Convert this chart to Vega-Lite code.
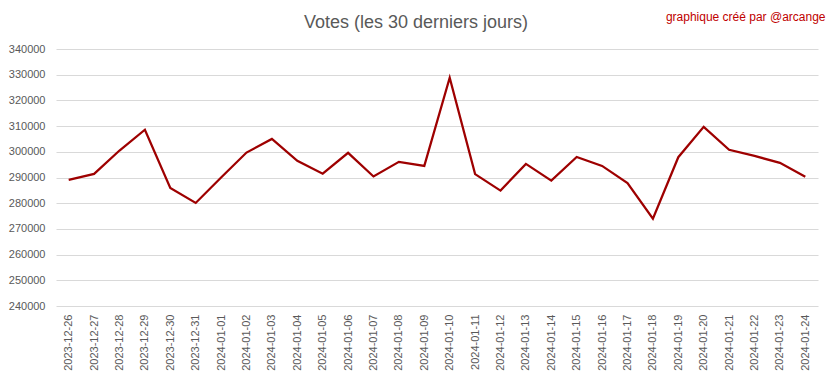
{
  "$schema": "https://vega.github.io/schema/vega-lite/v6.json",
  "autosize": {"type": "none"},
  "width": 762,
  "height": 257,
  "padding": {"left": 56, "top": 49, "right": 14, "bottom": 73},
  "background": "white",
  "title": {
    "text": "Votes (les 30 derniers jours)",
    "font": "Liberation Sans",
    "fontSize": 18,
    "fontWeight": "normal",
    "color": "#595959",
    "anchor": "middle",
    "frame": "group",
    "dx": -21,
    "dy": 26
  },
  "config": {
    "view": {"stroke": null},
    "axis": {"labelFont": "Liberation Sans", "titleFont": "Liberation Sans"}
  },
  "data": {
    "values": [
      {"date": "2023-12-26", "votes": 289100},
      {"date": "2023-12-27", "votes": 291400},
      {"date": "2023-12-28", "votes": 300500},
      {"date": "2023-12-29", "votes": 308600},
      {"date": "2023-12-30", "votes": 285900},
      {"date": "2023-12-31", "votes": 280100},
      {"date": "2024-01-01", "votes": 290000},
      {"date": "2024-01-02", "votes": 299700},
      {"date": "2024-01-03", "votes": 305000},
      {"date": "2024-01-04", "votes": 296500},
      {"date": "2024-01-05", "votes": 291500},
      {"date": "2024-01-06", "votes": 299600},
      {"date": "2024-01-07", "votes": 290400},
      {"date": "2024-01-08", "votes": 296100},
      {"date": "2024-01-09", "votes": 294500},
      {"date": "2024-01-10", "votes": 328800},
      {"date": "2024-01-11", "votes": 291300},
      {"date": "2024-01-12", "votes": 284900},
      {"date": "2024-01-13", "votes": 295300},
      {"date": "2024-01-14", "votes": 288800},
      {"date": "2024-01-15", "votes": 298000},
      {"date": "2024-01-16", "votes": 294500},
      {"date": "2024-01-17", "votes": 287800},
      {"date": "2024-01-18", "votes": 274000},
      {"date": "2024-01-19", "votes": 297900},
      {"date": "2024-01-20", "votes": 309700},
      {"date": "2024-01-21", "votes": 300800},
      {"date": "2024-01-22", "votes": 298400},
      {"date": "2024-01-23", "votes": 295700},
      {"date": "2024-01-24", "votes": 290300}
    ]
  },
  "resolve": {"axis": {"x": "independent"}},
  "layer": [
    {
      "mark": {"type": "line", "color": "#9e0000", "strokeWidth": 2.25, "strokeJoin": "miter"},
      "encoding": {
        "x": {
          "field": "date",
          "type": "ordinal",
          "scale": {"type": "point", "padding": 0.5},
          "axis": {
            "title": null,
            "labelAngle": -90,
            "labelAlign": "right",
            "labelBaseline": "middle",
            "labelFontSize": 11,
            "labelColor": "#595959",
            "labelPadding": 8,
            "ticks": false,
            "domain": false,
            "grid": false
          }
        },
        "y": {
          "field": "votes",
          "type": "quantitative",
          "scale": {"domain": [240000, 340000], "nice": false, "zero": false},
          "axis": {
            "title": null,
            "tickCount": 10,
            "format": "d",
            "labelFontSize": 11,
            "labelColor": "#595959",
            "labelPadding": 11,
            "ticks": false,
            "domain": false,
            "grid": true,
            "gridColor": "#d9d9d9",
            "gridWidth": 1
          }
        }
      }
    },
    {
      "mark": {"type": "line", "strokeOpacity": 0},
      "encoding": {
        "x": {
          "field": "date",
          "type": "ordinal",
          "scale": {"type": "point", "padding": 0.5},
          "axis": {
            "orient": "top",
            "title": "graphique créé par @arcange",
            "titleFont": "Liberation Sans",
            "titleFontSize": 12,
            "titleFontWeight": "normal",
            "titleColor": "#c00000",
            "titleAlign": "right",
            "titleAnchor": null,
            "titleX": 769,
            "titleY": -29,
            "titleBaseline": "alphabetic",
            "labels": false,
            "ticks": false,
            "domain": false,
            "grid": false
          }
        },
        "y": {"field": "votes", "type": "quantitative"}
      }
    }
  ]
}
